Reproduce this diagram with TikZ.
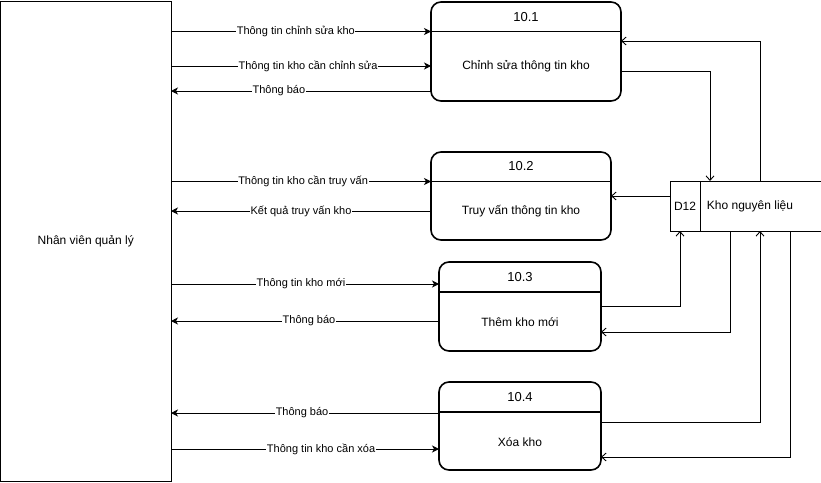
\documentclass[tikz,border=0pt]{standalone}
\usepackage{fontspec}
\setmainfont{Liberation Sans}
\usetikzlibrary{arrows.meta}
\begin{document}
\begin{tikzpicture}[x=1pt,y=-1pt,
  every node/.style={inner sep=0pt, outer sep=0pt},
  proc/.style={draw, line width=1.6pt, rounded corners=10pt, anchor=north west},
  num/.style={font=\fontsize{13}{15}\selectfont},
  txt/.style={font=\fontsize{12}{14}\selectfont},
  lbl/.style={font=\fontsize{11}{13}\selectfont, fill=white, inner sep=0.6pt},
  flow/.style={line width=0.9pt, -{Stealth[length=7pt,width=7pt,inset=2pt]}},
  dflow/.style={line width=0.9pt, -{Straight Barb[length=4.5pt,width=8pt]}}
]
\useasboundingbox (0,0) rectangle (821,482);

% external entity
\node[draw, line width=1pt, anchor=north west, minimum width=170.5pt, minimum height=480pt] (nv) at (0.5,1) {};
\node[txt] at (nv.center) {Nhân viên quản lý};

% processes
\node[proc, minimum width=190pt, minimum height=99pt] (p1) at (431,2) {};
\draw[line width=1.4pt] (p1.west |- 0,31.5) -- (p1.east |- 0,31.5);
\node[num] at (526,17) {10.1};
\node[txt] at (526,66) {Chỉnh sửa thông tin kho};

\node[proc, minimum width=180pt, minimum height=88pt] (p2) at (431,152) {};
\draw[line width=1.4pt] (p2.west |- 0,181.5) -- (p2.east |- 0,181.5);
\node[num] at (521,166) {10.2};
\node[txt] at (521,211) {Truy vấn thông tin kho};

\node[proc, minimum width=162pt, minimum height=89pt] (p3) at (439,262) {};
\draw[line width=1.4pt] (p3.west |- 0,292) -- (p3.east |- 0,292);
\node[num] at (520,277) {10.3};
\node[txt] at (520,322) {Thêm kho mới};

\node[proc, minimum width=162pt, minimum height=88pt] (p4) at (439,382) {};
\draw[line width=1.4pt] (p4.west |- 0,412) -- (p4.east |- 0,412);
\node[num] at (520,397) {10.4};
\node[txt] at (520,442) {Xóa kho};

% data store (open on the right)
\node[anchor=north west, minimum width=151pt, minimum height=50pt] (ds) at (670,181) {};
\draw[line width=1pt] (ds.north east) -- (ds.north west) -- (ds.south west) -- (ds.south east);
\draw[line width=1pt] (ds.north west -| 700,0) -- (ds.south west -| 700,0);
\node[txt] at (685,206) {D12};
\node[txt] at (750,206) {Kho nguyên liệu};

% flows between the entity and the processes
\draw[flow] (nv.east |- 0,31.5) -- (p1.west |- 0,31.5) node[lbl, pos=0.48] {Thông tin chỉnh sửa kho};
\draw[flow] (nv.east |- 0,66) -- (p1.west |- 0,66) node[lbl, pos=0.527] {Thông tin kho cần chỉnh sửa};
\draw[flow] (p1.west |- 0,91) -- (nv.east |- 0,91) node[lbl, pos=0.585] {Thông báo};

\draw[flow] (nv.east |- 0,181.5) -- (p2.west |- 0,181.5) node[lbl, pos=0.508] {Thông tin kho cần truy vấn};
\draw[flow] (p2.west |- 0,211) -- (nv.east |- 0,211) node[lbl, pos=0.5] {Kết quả truy vấn kho};

\draw[flow] (nv.east |- 0,284) -- (p3.west |- 0,284) node[lbl, pos=0.485] {Thông tin kho mới};
\draw[flow] (p3.west |- 0,321) -- (nv.east |- 0,321) node[lbl, pos=0.485] {Thông báo};

\draw[flow] (p4.west |- 0,413) -- (nv.east |- 0,413) node[lbl, pos=0.511] {Thông báo};
\draw[flow] (nv.east |- 0,449) -- (p4.west |- 0,449) node[lbl, pos=0.56] {Thông tin kho cần xóa};

% flows between the processes and the data store
\draw[dflow] (ds.north -| 760,0) |- (p1.east |- 0,41);
\draw[dflow] (p1.east |- 0,71) -| (ds.north -| 710,0);
\draw[dflow] (ds.west |- 0,196) -- (p2.east |- 0,196);
\draw[dflow] (p3.east |- 0,306) -| (ds.south -| 680,0);
\draw[dflow] (ds.south -| 730,0) |- (p3.east |- 0,332);
\draw[dflow] (p4.east |- 0,422) -| (ds.south -| 760,0);
\draw[dflow] (ds.south -| 790,0) |- (p4.east |- 0,457);
\end{tikzpicture}
\end{document}
